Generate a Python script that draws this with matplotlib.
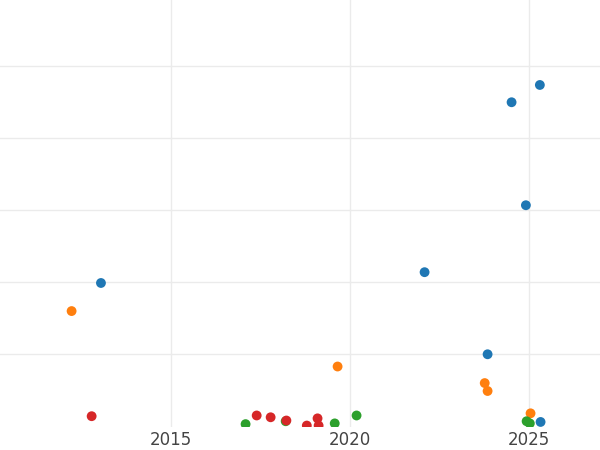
#!/usr/bin/env python3
"""Scatter of values by year, four groups, no y labels."""
import matplotlib

matplotlib.use("Agg")
import matplotlib.pyplot as plt  # noqa: E402

BLUE_X = [2013.04, 2022.08, 2023.84, 2024.51, 2024.91, 2025.30, 2025.32]
BLUE_Y = [1.99, 2.14, 1.00, 4.50, 3.07, 4.74, 0.06]
ORANGE_X = [2012.22, 2019.65, 2023.76, 2023.84, 2025.04]
ORANGE_Y = [1.60, 0.83, 0.60, 0.49, 0.18]
GREEN_X = [2017.08, 2018.20, 2019.57, 2020.18, 2024.93, 2025.02]
GREEN_Y = [0.03, 0.07, 0.04, 0.15, 0.07, 0.04]
RED_X = [2012.78, 2017.39, 2017.78, 2018.22, 2018.79, 2019.09, 2019.12]
RED_Y = [0.14, 0.15, 0.125, 0.08, 0.01, 0.11, 0.01]
XTICKS = [2015, 2020, 2025]

SERIES = [
    (BLUE_X, BLUE_Y, "#1f77b4"),
    (ORANGE_X, ORANGE_Y, "#ff7f0e"),
    (GREEN_X, GREEN_Y, "#2ca02c"),
    (RED_X, RED_Y, "#d62728"),
]


def main():
    fig = plt.figure(figsize=(6, 4.5), dpi=100)
    ax = fig.add_axes([0, 23 / 450, 1, 427 / 450])
    for xs, ys, c in SERIES:
        ax.scatter(xs, ys, s=50, color=c, edgecolors="none", zorder=3)
    ax.set_xlim(2010.22, 2026.98)
    ax.set_ylim(-0.01, 5.92)
    ax.set_xticks(XTICKS)
    ax.set_xticklabels([str(t) for t in XTICKS], fontsize=12, color="#444444")
    ax.set_yticks([1, 2, 3, 4, 5])
    ax.set_yticklabels([])
    ax.tick_params(length=0, pad=3)
    for s in ax.spines.values():
        s.set_visible(False)
    ax.grid(color="#ebebeb", lw=1)
    ax.set_axisbelow(True)
    fig.savefig("out.png", dpi=100)
    plt.close(fig)


if __name__ == "__main__":
    main()
